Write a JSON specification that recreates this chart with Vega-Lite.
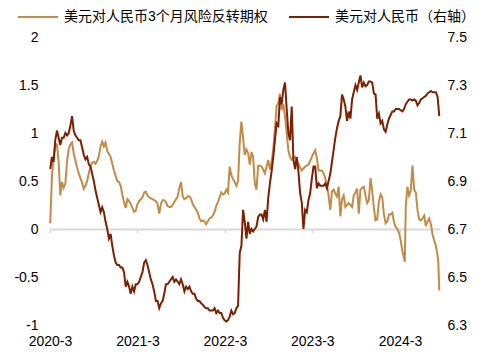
{
"$schema": "https://vega.github.io/schema/vega-lite/v6.json",
"width": 390, "height": 288,
"autosize": "none",
"padding": {"left": 50, "top": 37, "right": 45, "bottom": 30},
"background": "white",
"config": {"font": "Liberation Sans, Noto Sans CJK SC", "view": {"stroke": null},
  "axis": {"labelFont": "Liberation Sans, Noto Sans CJK SC", "labelFontSize": 14, "labelColor": "#000000", "grid": false, "title": null}},
"datasets": {
"rr": [
{"d":"2020-03-02","v":0.06},{"d":"2020-03-09","v":0.54},{"d":"2020-03-16","v":0.75},{"d":"2020-03-23","v":0.85},{"d":"2020-03-30","v":0.89},
{"d":"2020-04-06","v":0.70},{"d":"2020-04-13","v":0.35},{"d":"2020-04-20","v":0.49},{"d":"2020-04-27","v":0.43},
{"d":"2020-05-04","v":0.47},{"d":"2020-05-11","v":0.70},{"d":"2020-05-18","v":0.83},{"d":"2020-05-25","v":0.88},
{"d":"2020-06-01","v":0.90},{"d":"2020-06-08","v":0.79},{"d":"2020-06-15","v":0.71},{"d":"2020-06-22","v":0.64},{"d":"2020-06-29","v":0.58},
{"d":"2020-07-06","v":0.53},{"d":"2020-07-13","v":0.48},{"d":"2020-07-20","v":0.42},{"d":"2020-07-27","v":0.45},
{"d":"2020-08-03","v":0.50},{"d":"2020-08-10","v":0.58},{"d":"2020-08-17","v":0.65},{"d":"2020-08-24","v":0.69},{"d":"2020-08-31","v":0.70},
{"d":"2020-09-07","v":0.68},{"d":"2020-09-14","v":0.71},{"d":"2020-09-21","v":0.76},{"d":"2020-09-28","v":0.86},
{"d":"2020-10-05","v":0.91},{"d":"2020-10-12","v":0.86},{"d":"2020-10-19","v":0.90},{"d":"2020-10-26","v":0.81},
{"d":"2020-11-02","v":0.78},{"d":"2020-11-09","v":0.75},{"d":"2020-11-16","v":0.68},{"d":"2020-11-23","v":0.61},{"d":"2020-11-30","v":0.55},
{"d":"2020-12-07","v":0.50},{"d":"2020-12-14","v":0.49},{"d":"2020-12-21","v":0.45},{"d":"2020-12-28","v":0.36},
{"d":"2021-01-04","v":0.28},{"d":"2021-01-11","v":0.22},{"d":"2021-01-18","v":0.31},{"d":"2021-01-25","v":0.29},
{"d":"2021-02-01","v":0.26},{"d":"2021-02-08","v":0.22},{"d":"2021-02-15","v":0.18},{"d":"2021-02-22","v":0.19},
{"d":"2021-03-01","v":0.26},{"d":"2021-03-08","v":0.29},{"d":"2021-03-15","v":0.31},{"d":"2021-03-22","v":0.33},{"d":"2021-03-29","v":0.38},
{"d":"2021-04-05","v":0.39},{"d":"2021-04-12","v":0.35},{"d":"2021-04-19","v":0.33},{"d":"2021-04-26","v":0.32},
{"d":"2021-05-03","v":0.31},{"d":"2021-05-10","v":0.30},{"d":"2021-05-17","v":0.29},{"d":"2021-05-24","v":0.26},{"d":"2021-05-31","v":0.16},
{"d":"2021-06-07","v":0.26},{"d":"2021-06-14","v":0.30},{"d":"2021-06-21","v":0.30},{"d":"2021-06-28","v":0.28},
{"d":"2021-07-05","v":0.24},{"d":"2021-07-12","v":0.23},{"d":"2021-07-19","v":0.23},{"d":"2021-07-26","v":0.25},
{"d":"2021-08-02","v":0.28},{"d":"2021-08-09","v":0.31},{"d":"2021-08-16","v":0.34},{"d":"2021-08-23","v":0.43},{"d":"2021-08-30","v":0.49},
{"d":"2021-09-06","v":0.34},{"d":"2021-09-13","v":0.31},{"d":"2021-09-20","v":0.32},{"d":"2021-09-27","v":0.34},
{"d":"2021-10-04","v":0.34},{"d":"2021-10-11","v":0.31},{"d":"2021-10-18","v":0.26},{"d":"2021-10-25","v":0.23},
{"d":"2021-11-01","v":0.20},{"d":"2021-11-08","v":0.17},{"d":"2021-11-15","v":0.11},{"d":"2021-11-22","v":0.08},{"d":"2021-11-29","v":0.09},
{"d":"2021-12-06","v":0.08},{"d":"2021-12-13","v":0.05},{"d":"2021-12-20","v":0.08},{"d":"2021-12-27","v":0.11},
{"d":"2022-01-03","v":0.12},{"d":"2022-01-10","v":0.14},{"d":"2022-01-17","v":0.18},{"d":"2022-01-24","v":0.24},{"d":"2022-01-31","v":0.28},
{"d":"2022-02-07","v":0.33},{"d":"2022-02-14","v":0.38},{"d":"2022-02-21","v":0.36},{"d":"2022-02-28","v":0.37},
{"d":"2022-03-07","v":0.41},{"d":"2022-03-14","v":0.38},{"d":"2022-03-21","v":0.65},{"d":"2022-03-28","v":0.56},
{"d":"2022-04-04","v":0.52},{"d":"2022-04-11","v":0.49},{"d":"2022-04-18","v":0.45},{"d":"2022-04-25","v":0.50},
{"d":"2022-05-02","v":0.90},{"d":"2022-05-09","v":1.12},{"d":"2022-05-16","v":0.95},{"d":"2022-05-23","v":0.77},{"d":"2022-05-30","v":0.83},
{"d":"2022-06-06","v":0.79},{"d":"2022-06-13","v":0.67},{"d":"2022-06-20","v":0.80},{"d":"2022-06-27","v":0.75},
{"d":"2022-07-04","v":0.47},{"d":"2022-07-11","v":0.41},{"d":"2022-07-18","v":0.66},{"d":"2022-07-25","v":0.66},
{"d":"2022-08-01","v":0.65},{"d":"2022-08-08","v":0.62},{"d":"2022-08-15","v":0.58},{"d":"2022-08-22","v":0.65},{"d":"2022-08-29","v":0.72},
{"d":"2022-09-05","v":0.62},{"d":"2022-09-12","v":0.70},{"d":"2022-09-19","v":0.83},{"d":"2022-09-26","v":1.05},
{"d":"2022-10-03","v":1.28},{"d":"2022-10-10","v":1.31},{"d":"2022-10-17","v":1.41},{"d":"2022-10-24","v":1.24},{"d":"2022-10-31","v":1.30},
{"d":"2022-11-07","v":1.17},{"d":"2022-11-14","v":1.00},{"d":"2022-11-21","v":0.82},{"d":"2022-11-28","v":0.75},
{"d":"2022-12-05","v":0.72},{"d":"2022-12-12","v":0.74},{"d":"2022-12-19","v":0.75},{"d":"2022-12-26","v":0.71},
{"d":"2023-01-02","v":0.68},{"d":"2023-01-09","v":0.64},{"d":"2023-01-16","v":0.61},{"d":"2023-01-23","v":0.63},{"d":"2023-01-30","v":0.65},
{"d":"2023-02-06","v":0.66},{"d":"2023-02-13","v":0.67},{"d":"2023-02-20","v":0.71},{"d":"2023-02-27","v":0.75},
{"d":"2023-03-06","v":0.79},{"d":"2023-03-13","v":0.82},{"d":"2023-03-20","v":0.74},{"d":"2023-03-27","v":0.61},
{"d":"2023-04-03","v":0.61},{"d":"2023-04-10","v":0.61},{"d":"2023-04-17","v":0.58},{"d":"2023-04-24","v":0.53},
{"d":"2023-05-01","v":0.45},{"d":"2023-05-08","v":0.35},{"d":"2023-05-15","v":0.20},{"d":"2023-05-22","v":0.39},{"d":"2023-05-29","v":0.41},
{"d":"2023-06-05","v":0.37},{"d":"2023-06-12","v":0.34},{"d":"2023-06-19","v":0.44},{"d":"2023-06-26","v":0.13},
{"d":"2023-07-03","v":0.31},{"d":"2023-07-10","v":0.35},{"d":"2023-07-17","v":0.23},{"d":"2023-07-24","v":0.25},{"d":"2023-07-31","v":0.27},
{"d":"2023-08-07","v":0.25},{"d":"2023-08-14","v":0.23},{"d":"2023-08-21","v":0.35},{"d":"2023-08-28","v":0.38},
{"d":"2023-09-04","v":0.42},{"d":"2023-09-11","v":0.16},{"d":"2023-09-18","v":0.41},{"d":"2023-09-25","v":0.43},
{"d":"2023-10-02","v":0.44},{"d":"2023-10-09","v":0.35},{"d":"2023-10-16","v":0.27},{"d":"2023-10-23","v":0.30},{"d":"2023-10-30","v":0.53},
{"d":"2023-11-06","v":0.40},{"d":"2023-11-13","v":0.22},{"d":"2023-11-20","v":0.09},{"d":"2023-11-27","v":0.10},
{"d":"2023-12-04","v":0.29},{"d":"2023-12-11","v":0.36},{"d":"2023-12-18","v":0.33},{"d":"2023-12-25","v":0.15},
{"d":"2024-01-01","v":0.06},{"d":"2024-01-08","v":0.08},{"d":"2024-01-15","v":0.15},{"d":"2024-01-22","v":0.15},{"d":"2024-01-29","v":0.17},
{"d":"2024-02-05","v":0.07},{"d":"2024-02-12","v":0.02},{"d":"2024-02-19","v":0.00},{"d":"2024-02-26","v":-0.04},
{"d":"2024-03-04","v":-0.12},{"d":"2024-03-11","v":-0.23},{"d":"2024-03-18","v":-0.31},{"d":"2024-03-21","v":-0.34},{"d":"2024-03-25","v":0.23},
{"d":"2024-04-01","v":0.44},{"d":"2024-04-08","v":0.35},{"d":"2024-04-15","v":0.40},{"d":"2024-04-22","v":0.66},{"d":"2024-04-29","v":0.41},
{"d":"2024-05-06","v":0.38},{"d":"2024-05-13","v":0.20},{"d":"2024-05-20","v":0.10},{"d":"2024-05-27","v":0.09},
{"d":"2024-06-03","v":0.11},{"d":"2024-06-10","v":0.14},{"d":"2024-06-17","v":0.03},{"d":"2024-06-24","v":0.08},
{"d":"2024-07-01","v":0.11},{"d":"2024-07-08","v":0.05},{"d":"2024-07-15","v":-0.06},{"d":"2024-07-22","v":-0.12},{"d":"2024-07-29","v":-0.18},
{"d":"2024-08-05","v":-0.28},{"d":"2024-08-08","v":-0.35},{"d":"2024-08-12","v":-0.64}
],
"fx": [
{"d":"2020-03-02","v":6.95},{"d":"2020-03-09","v":7.00},{"d":"2020-03-16","v":6.98},{"d":"2020-03-23","v":7.07},{"d":"2020-03-30","v":7.11},
{"d":"2020-04-06","v":7.08},{"d":"2020-04-13","v":7.05},{"d":"2020-04-20","v":7.08},{"d":"2020-04-27","v":7.08},
{"d":"2020-05-04","v":7.10},{"d":"2020-05-11","v":7.09},{"d":"2020-05-18","v":7.10},{"d":"2020-05-25","v":7.13},
{"d":"2020-06-01","v":7.17},{"d":"2020-06-08","v":7.11},{"d":"2020-06-15","v":7.09},{"d":"2020-06-22","v":7.08},{"d":"2020-06-29","v":7.07},
{"d":"2020-07-06","v":7.07},{"d":"2020-07-13","v":7.04},{"d":"2020-07-20","v":7.01},{"d":"2020-07-27","v":6.99},
{"d":"2020-08-03","v":7.00},{"d":"2020-08-10","v":6.97},{"d":"2020-08-17","v":6.96},{"d":"2020-08-24","v":6.93},{"d":"2020-08-31","v":6.90},
{"d":"2020-09-07","v":6.86},{"d":"2020-09-14","v":6.83},{"d":"2020-09-21","v":6.80},{"d":"2020-09-28","v":6.77},
{"d":"2020-10-05","v":6.79},{"d":"2020-10-12","v":6.77},{"d":"2020-10-19","v":6.73},{"d":"2020-10-26","v":6.70},
{"d":"2020-11-02","v":6.66},{"d":"2020-11-09","v":6.68},{"d":"2020-11-16","v":6.63},{"d":"2020-11-23","v":6.59},{"d":"2020-11-30","v":6.56},
{"d":"2020-12-07","v":6.55},{"d":"2020-12-14","v":6.55},{"d":"2020-12-21","v":6.54},{"d":"2020-12-28","v":6.54},
{"d":"2021-01-04","v":6.52},{"d":"2021-01-11","v":6.46},{"d":"2021-01-18","v":6.48},{"d":"2021-01-25","v":6.46},
{"d":"2021-02-01","v":6.43},{"d":"2021-02-08","v":6.46},{"d":"2021-02-15","v":6.44},{"d":"2021-02-22","v":6.47},
{"d":"2021-03-01","v":6.47},{"d":"2021-03-08","v":6.48},{"d":"2021-03-15","v":6.50},{"d":"2021-03-22","v":6.52},{"d":"2021-03-29","v":6.56},
{"d":"2021-04-05","v":6.57},{"d":"2021-04-12","v":6.55},{"d":"2021-04-19","v":6.52},{"d":"2021-04-26","v":6.49},
{"d":"2021-05-03","v":6.47},{"d":"2021-05-10","v":6.44},{"d":"2021-05-17","v":6.40},{"d":"2021-05-24","v":6.40},{"d":"2021-05-31","v":6.37},
{"d":"2021-06-07","v":6.39},{"d":"2021-06-14","v":6.40},{"d":"2021-06-21","v":6.43},{"d":"2021-06-28","v":6.47},
{"d":"2021-07-05","v":6.47},{"d":"2021-07-12","v":6.48},{"d":"2021-07-19","v":6.49},{"d":"2021-07-26","v":6.50},
{"d":"2021-08-02","v":6.48},{"d":"2021-08-09","v":6.49},{"d":"2021-08-16","v":6.48},{"d":"2021-08-23","v":6.47},{"d":"2021-08-30","v":6.49},
{"d":"2021-09-06","v":6.47},{"d":"2021-09-13","v":6.44},{"d":"2021-09-20","v":6.46},{"d":"2021-09-27","v":6.45},
{"d":"2021-10-04","v":6.46},{"d":"2021-10-11","v":6.44},{"d":"2021-10-18","v":6.43},{"d":"2021-10-25","v":6.43},
{"d":"2021-11-01","v":6.41},{"d":"2021-11-08","v":6.40},{"d":"2021-11-15","v":6.40},{"d":"2021-11-22","v":6.39},{"d":"2021-11-29","v":6.385},
{"d":"2021-12-06","v":6.375},{"d":"2021-12-13","v":6.37},{"d":"2021-12-20","v":6.37},{"d":"2021-12-27","v":6.36},
{"d":"2022-01-03","v":6.36},{"d":"2022-01-10","v":6.36},{"d":"2022-01-17","v":6.37},{"d":"2022-01-24","v":6.35},{"d":"2022-01-31","v":6.36},
{"d":"2022-02-07","v":6.35},{"d":"2022-02-14","v":6.35},{"d":"2022-02-21","v":6.33},{"d":"2022-02-28","v":6.32},
{"d":"2022-03-07","v":6.315},{"d":"2022-03-14","v":6.32},{"d":"2022-03-21","v":6.335},{"d":"2022-03-28","v":6.36},
{"d":"2022-04-04","v":6.345},{"d":"2022-04-11","v":6.35},{"d":"2022-04-18","v":6.37},{"d":"2022-04-25","v":6.38},
{"d":"2022-05-02","v":6.60},{"d":"2022-05-09","v":6.63},{"d":"2022-05-16","v":6.78},{"d":"2022-05-23","v":6.73},{"d":"2022-05-30","v":6.66},
{"d":"2022-06-06","v":6.73},{"d":"2022-06-13","v":6.68},{"d":"2022-06-20","v":6.70},{"d":"2022-06-27","v":6.69},
{"d":"2022-07-04","v":6.70},{"d":"2022-07-11","v":6.71},{"d":"2022-07-18","v":6.75},{"d":"2022-07-25","v":6.76},
{"d":"2022-08-01","v":6.76},{"d":"2022-08-08","v":6.74},{"d":"2022-08-15","v":6.78},{"d":"2022-08-22","v":6.73},{"d":"2022-08-29","v":6.83},
{"d":"2022-09-05","v":6.89},{"d":"2022-09-12","v":6.94},{"d":"2022-09-19","v":7.00},{"d":"2022-09-26","v":7.07},
{"d":"2022-10-03","v":7.14},{"d":"2022-10-10","v":7.13},{"d":"2022-10-17","v":7.25},{"d":"2022-10-24","v":7.22},{"d":"2022-10-31","v":7.28},
{"d":"2022-11-07","v":7.31},{"d":"2022-11-14","v":7.20},{"d":"2022-11-21","v":7.10},{"d":"2022-11-28","v":7.07},
{"d":"2022-12-05","v":7.21},{"d":"2022-12-12","v":6.99},{"d":"2022-12-19","v":6.95},{"d":"2022-12-26","v":7.00},
{"d":"2023-01-02","v":6.94},{"d":"2023-01-09","v":6.85},{"d":"2023-01-16","v":6.81},{"d":"2023-01-23","v":6.70},{"d":"2023-01-30","v":6.78},
{"d":"2023-02-06","v":6.77},{"d":"2023-02-13","v":6.82},{"d":"2023-02-20","v":6.85},{"d":"2023-02-27","v":6.91},
{"d":"2023-03-06","v":6.96},{"d":"2023-03-13","v":6.96},{"d":"2023-03-20","v":6.87},{"d":"2023-03-27","v":6.89},
{"d":"2023-04-03","v":6.88},{"d":"2023-04-10","v":6.88},{"d":"2023-04-17","v":6.88},{"d":"2023-04-24","v":6.89},
{"d":"2023-05-01","v":6.87},{"d":"2023-05-08","v":6.90},{"d":"2023-05-15","v":6.93},{"d":"2023-05-22","v":6.98},{"d":"2023-05-29","v":7.03},
{"d":"2023-06-05","v":7.08},{"d":"2023-06-12","v":7.12},{"d":"2023-06-19","v":7.15},{"d":"2023-06-26","v":7.17},
{"d":"2023-07-03","v":7.26},{"d":"2023-07-10","v":7.24},{"d":"2023-07-17","v":7.21},{"d":"2023-07-24","v":7.15},{"d":"2023-07-31","v":7.19},
{"d":"2023-08-07","v":7.16},{"d":"2023-08-14","v":7.24},{"d":"2023-08-21","v":7.27},{"d":"2023-08-28","v":7.30},
{"d":"2023-09-04","v":7.28},{"d":"2023-09-11","v":7.31},{"d":"2023-09-18","v":7.34},{"d":"2023-09-25","v":7.29},
{"d":"2023-10-02","v":7.31},{"d":"2023-10-09","v":7.295},{"d":"2023-10-16","v":7.30},{"d":"2023-10-23","v":7.315},{"d":"2023-10-30","v":7.315},
{"d":"2023-11-06","v":7.31},{"d":"2023-11-13","v":7.265},{"d":"2023-11-20","v":7.26},{"d":"2023-11-27","v":7.16},
{"d":"2023-12-04","v":7.18},{"d":"2023-12-11","v":7.14},{"d":"2023-12-18","v":7.15},{"d":"2023-12-25","v":7.115},
{"d":"2024-01-01","v":7.105},{"d":"2024-01-08","v":7.135},{"d":"2024-01-15","v":7.16},{"d":"2024-01-22","v":7.175},{"d":"2024-01-29","v":7.19},
{"d":"2024-02-05","v":7.19},{"d":"2024-02-12","v":7.20},{"d":"2024-02-19","v":7.20},{"d":"2024-02-26","v":7.20},
{"d":"2024-03-04","v":7.195},{"d":"2024-03-11","v":7.19},{"d":"2024-03-18","v":7.20},{"d":"2024-03-25","v":7.22},
{"d":"2024-04-01","v":7.23},{"d":"2024-04-08","v":7.24},{"d":"2024-04-15","v":7.24},{"d":"2024-04-22","v":7.235},{"d":"2024-04-29","v":7.24},
{"d":"2024-05-06","v":7.235},{"d":"2024-05-13","v":7.215},{"d":"2024-05-20","v":7.225},{"d":"2024-05-27","v":7.24},
{"d":"2024-06-03","v":7.245},{"d":"2024-06-10","v":7.25},{"d":"2024-06-17","v":7.255},{"d":"2024-06-24","v":7.265},
{"d":"2024-07-01","v":7.27},{"d":"2024-07-08","v":7.275},{"d":"2024-07-15","v":7.27},{"d":"2024-07-22","v":7.27},{"d":"2024-07-29","v":7.27},
{"d":"2024-08-05","v":7.25},{"d":"2024-08-12","v":7.17}
]
},
"layer": [
{
 "data": {"name": "rr"},
 "mark": {"type": "line", "strokeWidth": 2, "interpolate": "linear"},
 "encoding": {
  "x": {"field": "d", "type": "temporal",
    "scale": {"type": "utc", "domain": [{"year": 2020, "month": 3, "date": 1, "utc": true}, {"year": 2024, "month": 8, "date": 15, "utc": true}]},
    "axis": {"orient": "bottom", "offset": -96, "labels": false, "domain": true, "domainColor": "#D9D9D9", "domainWidth": 2, "ticks": true, "tickColor": "#D9D9D9", "tickSize": 4, "tickWidth": 1.5,
      "values": [{"year": 2020, "month": 3, "date": 1, "utc": true}, {"year": 2021, "month": 3, "date": 1, "utc": true}, {"year": 2022, "month": 3, "date": 1, "utc": true}, {"year": 2023, "month": 3, "date": 1, "utc": true}, {"year": 2024, "month": 3, "date": 1, "utc": true}]}},
  "y": {"field": "v", "type": "quantitative", "scale": {"domain": [-1, 2], "nice": false, "zero": false},
    "axis": {"orient": "left", "values": [-1, -0.5, 0, 0.5, 1, 1.5, 2], "domain": false, "ticks": false, "labelPadding": 12, "labelExpr": "'' + datum.value"}},
  "color": {"datum": "美元对人民币3个月风险反转期权", "type": "nominal",
    "scale": {"domain": ["美元对人民币3个月风险反转期权", "美元对人民币（右轴）"], "range": ["#C28C48", "#7B2100"]},
    "legend": {"orient": "none", "legendX": -33, "legendY": -41, "direction": "horizontal", "title": null,
      "symbolType": "stroke", "symbolSize": 1600, "symbolStrokeWidth": 2, "labelFontSize": 14, "labelFont": "Liberation Sans, Noto Sans CJK SC", "labelColor": "#000000", "labelOffset": 5, "columnPadding": 17, "labelLimit": 400}}
 }
},
{
 "data": {"name": "fx"},
 "mark": {"type": "line", "strokeWidth": 2, "interpolate": "linear"},
 "encoding": {
  "x": {"field": "d", "type": "temporal",
    "axis": {"orient": "bottom", "domain": false, "ticks": false, "labelPadding": 9, "labelFlush": false,
      "values": [{"year": 2020, "month": 3, "date": 1, "utc": true}, {"year": 2021, "month": 3, "date": 1, "utc": true}, {"year": 2022, "month": 3, "date": 1, "utc": true}, {"year": 2023, "month": 3, "date": 1, "utc": true}, {"year": 2024, "month": 3, "date": 1, "utc": true}],
      "labelExpr": "utcyear(datum.value) + '-' + (utcmonth(datum.value) + 1)"}},
  "y": {"field": "v", "type": "quantitative", "scale": {"domain": [6.3, 7.5], "nice": false, "zero": false},
    "axis": {"orient": "right", "values": [6.3, 6.5, 6.7, 6.9, 7.1, 7.3, 7.5], "domain": false, "ticks": false, "labelPadding": 7, "format": ".1f"}},
  "color": {"datum": "美元对人民币（右轴）", "type": "nominal"}
 }
}
],
"resolve": {"scale": {"y": "independent"}, "axis": {"x": "independent"}}
}
